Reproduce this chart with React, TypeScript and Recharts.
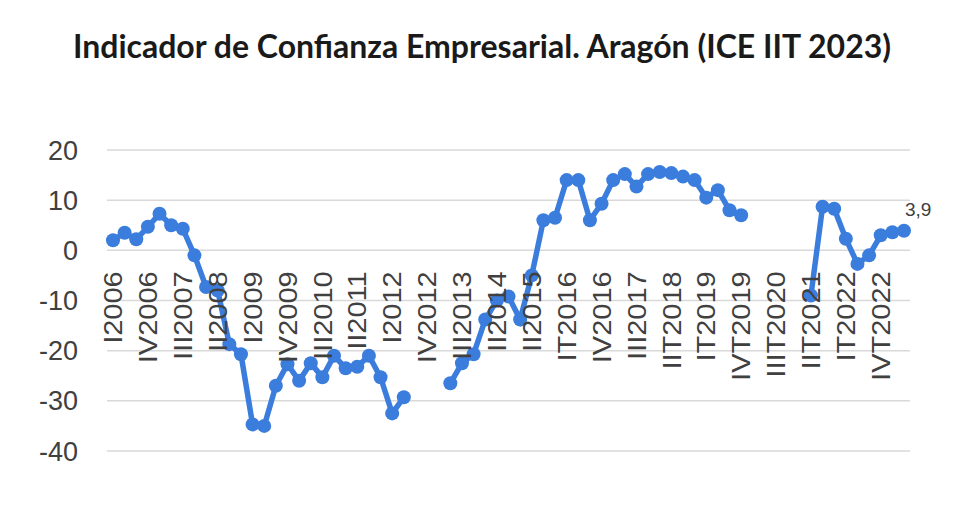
import React from "react";
import { LineChart, Line, XAxis, YAxis, CartesianGrid, LabelList } from "recharts";

const CATEGORIES: string[] = [
  "I2006", "II2006", "III2006", "IV2006",
  "I2007", "II2007", "III2007", "IV2007",
  "I2008", "II2008", "III2008", "IV2008",
  "I2009", "II2009", "III2009", "IV2009",
  "I2010", "II2010", "III2010", "IV2010",
  "I2011", "II2011", "III2011", "IV2011",
  "I2012", "II2012", "III2012", "IV2012",
  "I2013", "II2013", "III2013", "IV2013",
  "I2014", "II2014", "III2014", "IV2014",
  "II2015", "III2015", "IV2015",
  "IT2016", "IIT2016", "IIIT2016", "IV2016",
  "IT2017", "IIT2017", "III2017", "IVT2017",
  "IT2018", "IIT2018", "IIIT2018", "IVT2018",
  "IT2019", "IIT2019", "IIIT2019", "IVT2019",
  "IT2020", "IIT2020", "IIIT2020", "IVT2020",
  "IT2021", "IIT2021", "IIIT2021", "IVT2021",
  "IT2022", "IIT2022", "IIIT2022", "IVT2022",
  "IT2023", "IIT2023",
];

const ICE_VALUES: (number | null)[] = [
  2, 3.5, 2.2, 4.7,
  7.3, 5, 4.3, -1,
  -7.3, -8, -18.7, -20.7,
  -34.7, -35, -27, -22.7,
  -26, -22.5, -25.3, -21,
  -23.5, -23.2, -21, -25.3,
  -32.5, -29.3, null, null,
  null, -26.5, -22.5, -20.7,
  -13.8, -10, -9.2, -13.8,
  -5, 6, 6.5,
  14, 14, 6, 9.3,
  14, 15.2, 12.7, 15.2,
  15.6, 15.4, 14.7, 14,
  10.5, 12, 8, 7,
  null, null, null, null,
  null, -9, 8.7, 8.3,
  2.3, -2.7, -1, 3,
  3.6, 3.9,
];

const Y_TICKS: number[] = [-40, -30, -20, -10, 0, 10, 20];

const TITLE = "Indicador de Confianza Empresarial. Aragón (ICE IIT 2023)";

const WIDTH = 980;
const HEIGHT = 526;
const MARGIN_TOP = 150;
const MARGIN_BOTTOM = 45;
const X_AXIS_H = 30;
const Y_MIN = -40;
const Y_MAX = 20;
const PLOT_H = HEIGHT - MARGIN_TOP - MARGIN_BOTTOM - X_AXIS_H;
const ZERO_Y = MARGIN_TOP + (PLOT_H * (Y_MAX - 0)) / (Y_MAX - Y_MIN);

const LINE_COLOR = "#3b7ddd";
const TEXT_COLOR = "#404040";
const AXIS_FONT = "'Liberation Sans', Arial, sans-serif";

const data = CATEGORIES.map((cat, i) => ({ cat, ice: ICE_VALUES[i] }));

function CategoryTick(props: any) {
  const { x, payload } = props;
  return (
    <text
      transform={`translate(${x},${ZERO_Y + 21}) rotate(-90) scale(1,0.88)`}
      textAnchor="end"
      dy="0.36em"
      fontSize={29}
      fill={TEXT_COLOR}
      fontFamily={AXIS_FONT}
    >
      {payload.value}
    </text>
  );
}

function LastLabel(props: any) {
  const { x, y, value, index } = props;
  if (index !== ICE_VALUES.length - 1 || value == null) return null;
  return (
    <text
      x={x + 1}
      y={y - 15}
      fontSize={19}
      fill={TEXT_COLOR}
      fontFamily={AXIS_FONT}
      textAnchor="start"
    >
      {String(value).replace(".", ",")}
    </text>
  );
}

export default function App() {
  return (
    <div
      style={{
        position: "absolute",
        left: 0,
        top: 0,
        width: WIDTH,
        height: HEIGHT,
        background: "#ffffff",
      }}
    >
      <div
        style={{
          position: "absolute",
          left: 0,
          top: 26,
          width: 964,
          textAlign: "center",
          fontFamily: "Lato, 'Open Sans', sans-serif",
          fontWeight: 700,
          fontSize: 32,
          color: "#1a1a1a",
          lineHeight: "40px",
          whiteSpace: "nowrap",
        }}
      >
        {TITLE}
      </div>
      <LineChart
        width={WIDTH}
        height={HEIGHT}
        data={data}
        margin={{ top: MARGIN_TOP, right: 70, bottom: MARGIN_BOTTOM, left: 27 }}
      >
        <CartesianGrid horizontal vertical={false} stroke="#d9d9d9" strokeWidth={1.5} />
        <XAxis
          dataKey="cat"
          height={X_AXIS_H}
          interval={2}
          axisLine={false}
          tickLine={false}
          tick={<CategoryTick />}
          padding={{ left: 6, right: 6 }}
        />
        <YAxis
          width={80}
          domain={[Y_MIN, Y_MAX]}
          ticks={Y_TICKS}
          axisLine={false}
          tickLine={false}
          tickMargin={23}
          tick={{ fontSize: 27, fill: TEXT_COLOR, fontFamily: AXIS_FONT }}
        />
        <Line
          type="linear"
          dataKey="ice"
          stroke={LINE_COLOR}
          strokeWidth={5.5}
          dot={{ r: 7, fill: LINE_COLOR, stroke: LINE_COLOR, strokeWidth: 0 }}
          activeDot={false}
          connectNulls={false}
          isAnimationActive={false}
        >
          <LabelList dataKey="ice" content={<LastLabel />} />
        </Line>
      </LineChart>
    </div>
  );
}
